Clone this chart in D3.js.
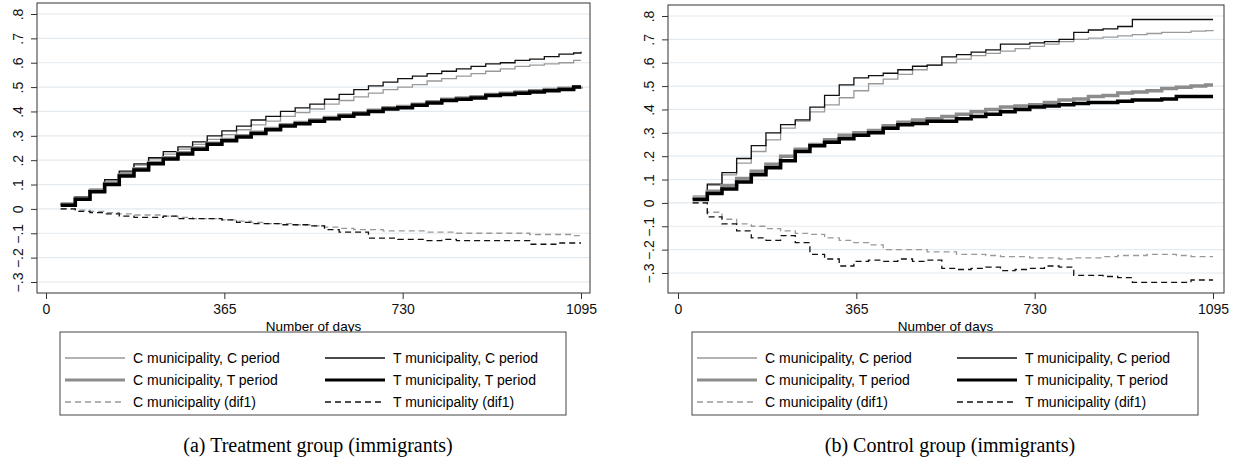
<!DOCTYPE html>
<html><head><meta charset="utf-8">
<script src="https://cdn.jsdelivr.net/npm/d3@7"></script>
<style>body{margin:0;background:#fff}</style>
</head><body>
<svg id="chart" width="1238" height="471"></svg>
<script>
var days = [30,60,90,120,150,180,210,240,270,300,330,360,390,420,450,480,510,540,570,600,630,660,690,720,750,780,810,840,870,900,930,960,990,1020,1050,1080,1095];
var yTicks = [-0.3,-0.2,-0.1,0,0.1,0.2,0.3,0.4,0.5,0.6,0.7,0.8];
var xTicks = [0,365,730,1095];
var seriesNames = ["C municipality, C period","T municipality, C period","C municipality, T period","T municipality, T period","C municipality (dif1)","T municipality (dif1)"];

// (a) treatment group
var aCC = [0.02,0.05,0.08,0.115,0.15,0.18,0.205,0.225,0.245,0.265,0.285,0.305,0.325,0.345,0.36,0.38,0.395,0.41,0.43,0.445,0.46,0.475,0.49,0.50,0.51,0.525,0.535,0.545,0.555,0.565,0.575,0.585,0.59,0.595,0.60,0.61,0.61];
var aTC = [0.02,0.05,0.08,0.12,0.155,0.185,0.21,0.235,0.255,0.275,0.30,0.32,0.34,0.365,0.38,0.40,0.415,0.43,0.45,0.47,0.49,0.505,0.52,0.535,0.545,0.555,0.565,0.575,0.585,0.595,0.60,0.61,0.615,0.625,0.635,0.64,0.645];
var aCT = [0.02,0.045,0.075,0.105,0.14,0.165,0.19,0.21,0.23,0.25,0.27,0.285,0.30,0.315,0.33,0.345,0.355,0.365,0.375,0.385,0.395,0.405,0.415,0.42,0.43,0.44,0.45,0.455,0.46,0.47,0.475,0.48,0.485,0.49,0.495,0.50,0.502];
var aTT = [0.015,0.04,0.07,0.10,0.135,0.16,0.185,0.205,0.225,0.245,0.265,0.28,0.295,0.31,0.325,0.34,0.35,0.36,0.37,0.38,0.39,0.40,0.41,0.415,0.425,0.435,0.445,0.45,0.455,0.465,0.47,0.475,0.48,0.485,0.49,0.50,0.50];
var aDC = [0,-0.005,-0.01,-0.015,-0.02,-0.025,-0.025,-0.03,-0.035,-0.04,-0.04,-0.045,-0.05,-0.055,-0.06,-0.06,-0.065,-0.07,-0.075,-0.08,-0.085,-0.085,-0.09,-0.09,-0.09,-0.095,-0.095,-0.10,-0.10,-0.10,-0.10,-0.10,-0.105,-0.105,-0.105,-0.11,-0.11];
var aDT = [0,-0.01,-0.015,-0.02,-0.03,-0.035,-0.035,-0.03,-0.04,-0.04,-0.04,-0.045,-0.055,-0.06,-0.06,-0.065,-0.065,-0.07,-0.085,-0.095,-0.095,-0.12,-0.12,-0.125,-0.125,-0.13,-0.125,-0.13,-0.13,-0.13,-0.13,-0.13,-0.145,-0.145,-0.14,-0.14,-0.14];

// (b) control group
var bCC = [0.03,0.075,0.12,0.17,0.22,0.27,0.32,0.35,0.39,0.42,0.45,0.48,0.51,0.53,0.55,0.57,0.59,0.60,0.615,0.63,0.64,0.65,0.66,0.67,0.68,0.69,0.70,0.705,0.71,0.715,0.72,0.725,0.73,0.73,0.735,0.737,0.74];
var bTC = [0.02,0.08,0.13,0.19,0.245,0.30,0.335,0.355,0.41,0.46,0.505,0.535,0.545,0.555,0.57,0.585,0.59,0.625,0.635,0.645,0.655,0.68,0.68,0.685,0.69,0.70,0.73,0.74,0.745,0.755,0.785,0.785,0.785,0.785,0.785,0.785,0.785];
var bCT = [0.02,0.05,0.075,0.105,0.135,0.165,0.20,0.23,0.25,0.27,0.29,0.30,0.31,0.33,0.345,0.355,0.36,0.37,0.38,0.39,0.40,0.41,0.415,0.42,0.43,0.44,0.445,0.455,0.46,0.47,0.475,0.48,0.49,0.495,0.50,0.505,0.505];
var bTT = [0.015,0.04,0.06,0.09,0.12,0.15,0.18,0.22,0.245,0.26,0.275,0.29,0.30,0.32,0.335,0.34,0.35,0.35,0.36,0.37,0.38,0.39,0.40,0.41,0.415,0.42,0.425,0.43,0.43,0.435,0.44,0.44,0.445,0.455,0.455,0.455,0.455];
var bDC = [0,-0.04,-0.07,-0.09,-0.10,-0.11,-0.12,-0.13,-0.135,-0.15,-0.16,-0.17,-0.18,-0.20,-0.20,-0.20,-0.21,-0.21,-0.22,-0.22,-0.225,-0.23,-0.23,-0.235,-0.235,-0.24,-0.235,-0.235,-0.23,-0.225,-0.225,-0.22,-0.22,-0.225,-0.23,-0.23,-0.23];
var bDT = [0,-0.06,-0.09,-0.12,-0.15,-0.16,-0.14,-0.17,-0.22,-0.24,-0.27,-0.25,-0.245,-0.25,-0.24,-0.25,-0.245,-0.28,-0.285,-0.28,-0.275,-0.29,-0.285,-0.28,-0.27,-0.275,-0.31,-0.31,-0.315,-0.32,-0.34,-0.34,-0.34,-0.34,-0.33,-0.33,-0.33];

var styles = [
  {color:"#999", width:1.3, dash:null},
  {color:"#111", width:1.3, dash:null},
  {color:"#8c8c8c", width:3.5, dash:null},
  {color:"#000", width:3.5, dash:null},
  {color:"#999", width:1.3, dash:"6,4"},
  {color:"#111", width:1.3, dash:"6,4"}
];

var sans = "'Liberation Sans', Arial, sans-serif";
var svg = d3.select("#chart");

function panel(ox, box, seriesList, caption) {
  var g = svg.append("g").attr("transform", "translate(" + ox + ",0)");
  var x = d3.scaleLinear().domain([0, 1095]).range([box.x0, box.x1]);
  var y = d3.scaleLinear().domain([-0.3, 0.8]).range([box.yb, box.yt]);

  // grid
  g.selectAll(".grid").data(yTicks).enter().append("line")
    .attr("x1", box.left).attr("x2", box.right)
    .attr("y1", d => y(d)).attr("y2", d => y(d))
    .attr("stroke", "#e3eaef").attr("stroke-width", 1.2);

  // frame
  g.append("rect").attr("x", box.left).attr("y", box.top)
    .attr("width", box.right - box.left).attr("height", box.bottom - box.top)
    .attr("fill", "none").attr("stroke", "#333").attr("stroke-width", 1);

  // y axis
  var ya = g.append("g").attr("transform", "translate(" + box.left + ",0)")
    .call(d3.axisLeft(y).tickValues(yTicks).tickSize(6)
      .tickFormat(d => d === 0 ? "0" : d3.format(".1f")(d).replace("0.", ".")));
  ya.select(".domain").remove();
  ya.selectAll("line").attr("stroke", "#333");
  ya.selectAll("text").attr("transform", "rotate(-90)").attr("x", 0).attr("dy", 0)
    .attr("y", -14).style("text-anchor", "middle")
    .style("font-family", sans).style("font-size", "14px").attr("fill", "#111");

  // x axis
  var xa = g.append("g").attr("transform", "translate(0," + box.bottom + ")")
    .call(d3.axisBottom(x).tickValues(xTicks).tickSize(6).tickPadding(5).tickFormat(d3.format("d")));
  xa.select(".domain").remove();
  xa.selectAll("line").attr("stroke", "#333");
  xa.selectAll("text").style("font-family", sans).style("font-size", "14px").attr("fill", "#111");

  g.append("text").attr("x", (box.x0 + box.x1) / 2).attr("y", box.bottom + 38)
    .attr("text-anchor", "middle").style("font-family", sans)
    .style("font-size", "13.5px").text("Number of days");

  var line = d3.line().x((d, i) => x(days[i])).y(d => y(d)).curve(d3.curveStepAfter);
  var order = [4, 5, 0, 1, 2, 3];
  order.forEach(function(k) {
    var s = styles[k];
    g.append("path").datum(seriesList[k]).attr("d", line)
      .attr("fill", "none").attr("stroke", s.color).attr("stroke-width", s.width)
      .attr("stroke-dasharray", s.dash);
  });

  // legend
  var lg = g.append("g");
  lg.append("rect").attr("x", box.lx0).attr("y", box.ly0)
    .attr("width", box.lx1 - box.lx0).attr("height", box.ly1 - box.ly0)
    .attr("fill", "#fff").attr("stroke", "#444").attr("stroke-width", 1);
  seriesNames.forEach(function(name, k) {
    var col = k % 2, row = Math.floor(k / 2);
    var lx = box.lx0 + 5 + col * 260;
    var ly = box.ly0 + 26 + row * 22;
    var s = styles[k];
    lg.append("line").attr("x1", lx).attr("x2", lx + 60).attr("y1", ly).attr("y2", ly)
      .attr("stroke", s.color).attr("stroke-width", s.width === 3.5 ? 3 : 1.3)
      .attr("stroke-dasharray", s.dash);
    lg.append("text").attr("x", lx + 68).attr("y", ly + 5)
      .style("font-family", sans).style("font-size", "14px")
      .text(name);
  });

  g.append("text").attr("x", (box.lx0 + box.lx1) / 2 + 5).attr("y", 452)
    .attr("text-anchor", "middle").style("font-family", "'Liberation Serif', 'DejaVu Serif', serif")
    .style("font-size", "20px").text(caption);
}

panel(0, {left:37, right:590, top:3, bottom:293, x0:46, x1:581, yt:14, yb:282,
  lx0:60, lx1:566, ly0:332, ly1:415}, [aCC, aTC, aCT, aTT, aDC, aDT], "(a)  Treatment group (immigrants)");
panel(620, {left:48, right:604, top:5, bottom:293, x0:58, x1:593, yt:16, yb:273,
  lx0:72, lx1:578, ly0:332, ly1:415}, [bCC, bTC, bCT, bTT, bDC, bDT], "(b)  Control group (immigrants)");
</script>
</body></html>
